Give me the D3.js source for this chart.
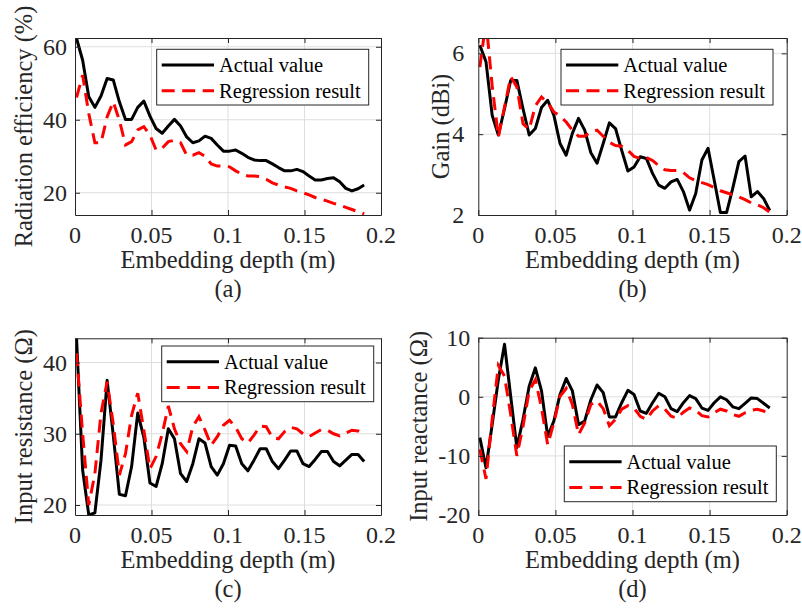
<!DOCTYPE html>
<html>
<head>
<meta charset="utf-8">
<script src="https://cdn.jsdelivr.net/npm/d3@7"></script>
<style>
  html, body { margin: 0; padding: 0; background: #fff; }
  svg { display: block; }
  text { font-family: "Liberation Serif", "Times New Roman", serif; }
</style>
</head>
<body>
<svg id="chart" width="802" height="610"></svg>
<script>
// ---------------- data ----------------
const depth = [0.001,0.005,0.009,0.013,0.017,0.021,0.025,0.029,0.033,0.037,0.041,0.045,0.049,0.053,0.057,0.061,
  0.065,0.069,0.073,0.077,0.081,0.085,0.089,0.093,0.097,0.101,0.105,0.109,0.113,0.117,0.121,0.125,
  0.129,0.133,0.137,0.141,0.145,0.149,0.153,0.157,0.161,0.165,0.169,0.173,0.177,0.181,0.185,0.189];

const effActual = [62.3,56.3,46.3,43.4,46.5,51.3,50.9,44.9,40.1,40.1,43.4,45.1,41.0,37.6,36.3,38.3,
  40.1,38.3,35.3,33.7,34.2,35.5,34.9,33.1,31.4,31.4,31.7,30.8,29.7,29.0,28.8,28.8,
  27.9,26.9,26.0,26.0,26.4,25.8,24.6,23.5,23.5,23.9,24.1,23.0,21.2,20.5,21.1,22.1];
const effRegression = [46.1,52.2,41.7,33.7,33.7,40.8,44.9,39.9,33.1,34.0,37.2,38.1,35.8,31.7,32.2,34.0,
  34.4,33.7,30.3,30.3,31.0,30.0,27.9,27.3,27.3,27.1,26.0,25.1,24.6,24.6,24.4,23.7,
  22.7,22.1,21.6,21.2,20.5,20.0,19.4,18.7,18.2,17.7,17.1,16.6,16.0,15.4,14.8,14.2];

const gainActual = [6.20,5.79,4.47,3.98,4.63,5.33,5.33,4.63,3.98,4.14,4.66,4.84,4.47,3.77,3.48,4.02,
  4.39,4.10,3.54,3.28,3.77,4.28,4.14,3.60,3.09,3.19,3.44,3.40,3.03,2.74,2.66,2.82,
  2.88,2.58,2.12,2.53,3.36,3.65,2.86,2.06,2.06,2.66,3.32,3.46,2.45,2.58,2.41,2.11];
const gainRegression = [5.66,6.80,5.20,3.93,4.67,5.42,5.17,4.26,4.12,4.70,4.92,4.78,4.55,4.45,4.30,4.10,
  3.95,3.95,4.05,4.10,3.95,3.80,3.72,3.70,3.60,3.45,3.40,3.42,3.35,3.22,3.12,3.10,
  3.10,3.05,2.92,2.85,2.80,2.75,2.68,2.60,2.55,2.50,2.45,2.38,2.30,2.25,2.18,2.07];

const resActual = [43.4,24.9,18.6,18.9,26.3,37.5,29.8,21.5,21.3,25.4,32.9,29.5,23.1,22.6,25.8,30.7,
  29.3,24.4,23.3,25.8,29.3,28.7,25.4,24.2,25.8,28.4,28.3,25.8,24.8,26.3,27.9,27.9,
  26.1,25.1,26.3,27.6,27.6,25.8,25.4,26.4,27.5,27.5,26.1,25.5,26.3,27.1,27.1,26.1];
const resRegression = [41.3,30.0,20.0,24.4,32.9,37.3,31.4,24.2,27.2,32.6,35.7,30.5,25.1,26.8,30.0,33.9,
  30.7,28.6,27.5,31.0,32.4,30.5,28.4,29.6,31.2,31.9,30.9,29.3,28.7,29.8,31.1,31.0,
  29.5,29.3,30.3,30.9,30.7,30.0,29.6,30.1,30.6,30.5,30.0,29.7,30.1,30.5,30.4,30.0];

const reactActual = [-6.9,-12.0,-4.7,2.9,8.9,0.1,-8.6,-3.8,1.8,4.9,1.0,-6.7,-4.1,0.4,3.1,1.0,
  -4.7,-4.1,-0.5,2.0,0.7,-3.4,-3.4,-1.0,1.1,0.4,-2.4,-2.8,-1.0,0.6,0.0,-2.0,
  -2.5,-1.0,0.2,-0.3,-1.9,-2.3,-1.0,0.0,-0.5,-1.7,-2.0,-1.1,-0.2,-0.3,-1.1,-1.9];
const reactRegression = [-8.9,-13.9,-3.8,5.3,3.5,-3.0,-10.0,-5.0,1.0,2.9,-1.9,-8.1,-4.4,0.1,1.4,-1.3,
  -6.4,-4.4,-1.3,-0.7,-2.0,-4.9,-3.8,-2.1,-1.5,-1.9,-3.3,-3.8,-2.4,-1.5,-2.1,-3.3,
  -3.6,-2.6,-1.9,-2.3,-3.2,-3.4,-2.7,-2.1,-2.4,-3.0,-3.3,-2.7,-2.3,-2.1,-2.4,-3.0];

const xTicks = [0, 0.05, 0.1, 0.15, 0.2];
const xTickLabels = ["0", "0.05", "0.1", "0.15", "0.2"];
const effTicks = [20, 40, 60];
const gainTicks = [2, 4, 6];
const resTicks = [20, 30, 40];
const reactTicks = [-20, -10, 0, 10];
const seriesNames = ["Actual value", "Regression result"];
const xLabel = "Embedding depth (m)";

// ---------------- layout / style ----------------
const AXC = "#262626", GRID = "#dedede";
const TICKFS = 24, LABFS = 24.5, LEGFS = 20.5;

const panels = [
  { L: 75, R: 381, T: 38, B: 215, dom: [13.9, 62.4], ticks: effTicks, ylab: "Radiation efficiency (%)", ylx: 32,
    cap: "(a)", act: effActual, reg: effRegression, leg: [156.7, 49.3], tickGap: 8 },
  { L: 478.3, R: 786.7, T: 38, B: 215, dom: [2, 6.38], ticks: gainTicks, ylab: "Gain (dBi)", ylx: 449,
    cap: "(b)", act: gainActual, reg: gainRegression, leg: [561, 49.3], tickGap: 14 },
  { L: 75, R: 381, T: 338.3, B: 515, dom: [18.6, 43.4], ticks: resTicks, ylab: "Input resistance (\u03A9)", ylx: 32,
    cap: "(c)", act: resActual, reg: resRegression, leg: [161.7, 346], tickGap: 8 },
  { L: 478.3, R: 786.7, T: 337.7, B: 515, dom: [-20, 10], ticks: reactTicks, ylab: "Input reactance (\u03A9)", ylx: 427,
    cap: "(d)", act: reactActual, reg: reactRegression, leg: [564.3, 446], tickGap: 8 }
];

const svg = d3.select("#chart");

panels.forEach((p, pi) => {
  const x = d3.scaleLinear().domain([0, 0.2]).range([p.L, p.R]);
  const y = d3.scaleLinear().domain(p.dom).range([p.B, p.T]);
  const g = svg.append("g");

  // grid
  g.selectAll(".gx").data(xTicks.slice(1, -1)).join("line")
    .attr("x1", d => x(d)).attr("x2", d => x(d)).attr("y1", p.T).attr("y2", p.B)
    .attr("stroke", GRID).attr("stroke-width", 1);
  g.selectAll(".gy").data(p.ticks.filter(t => y(t) > p.T + 0.5 && y(t) < p.B - 0.5)).join("line")
    .attr("x1", p.L).attr("x2", p.R).attr("y1", d => y(d)).attr("y2", d => y(d))
    .attr("stroke", GRID).attr("stroke-width", 1);

  // clip
  const cid = "clip" + pi;
  svg.append("defs").append("clipPath").attr("id", cid)
    .append("rect").attr("x", p.L).attr("y", p.T).attr("width", p.R - p.L).attr("height", p.B - p.T);

  const line = d3.line().x((d, i) => x(depth[i])).y(d => y(d));
  const lg = g.append("g").attr("clip-path", `url(#${cid})`);
  lg.append("path").datum(p.act).attr("d", line)
    .attr("fill", "none").attr("stroke", "#000").attr("stroke-width", 3).attr("stroke-linejoin", "round");
  lg.append("path").datum(p.reg).attr("d", line)
    .attr("fill", "none").attr("stroke", "#ff0000").attr("stroke-width", 3)
    .attr("stroke-dasharray", "13,7.5");

  // axes with inward ticks (box on all sides)
  const tk = 5;
  g.append("g").attr("transform", `translate(0,${p.B})`)
    .call(d3.axisBottom(x).tickValues(xTicks).tickSizeInner(-tk).tickSizeOuter(0).tickFormat(""));
  g.append("g").attr("transform", `translate(0,${p.T})`)
    .call(d3.axisTop(x).tickValues(xTicks).tickSizeInner(-tk).tickSizeOuter(0).tickFormat(""));
  g.append("g").attr("transform", `translate(${p.L},0)`)
    .call(d3.axisLeft(y).tickValues(p.ticks).tickSizeInner(-tk).tickSizeOuter(0).tickFormat(""));
  g.append("g").attr("transform", `translate(${p.R},0)`)
    .call(d3.axisRight(y).tickValues(p.ticks).tickSizeInner(-tk).tickSizeOuter(0).tickFormat(""));
  g.selectAll(".domain").attr("stroke", AXC).attr("stroke-width", 1);
  g.selectAll(".tick line").attr("stroke", AXC).attr("stroke-width", 1);

  // tick labels
  g.selectAll(".xtl").data(xTicks).join("text")
    .attr("x", d => x(d)).attr("y", p.B + 28)
    .attr("text-anchor", "middle").attr("font-size", TICKFS).attr("fill", AXC)
    .text((d, i) => xTickLabels[i]);
  g.selectAll(".ytl").data(p.ticks).join("text")
    .attr("x", p.L - p.tickGap).attr("y", d => y(d) + 8)
    .attr("text-anchor", "end").attr("font-size", TICKFS).attr("fill", AXC)
    .text(d => String(d));

  // axis labels
  g.append("text").attr("x", (p.L + p.R) / 2).attr("y", p.B + 53)
    .attr("text-anchor", "middle").attr("font-size", LABFS).attr("fill", AXC).text(xLabel);
  g.append("text").attr("transform", `translate(${p.ylx},${(p.T + p.B) / 2}) rotate(-90)`)
    .attr("text-anchor", "middle").attr("font-size", LABFS).attr("fill", AXC).text(p.ylab);
  g.append("text").attr("x", (p.L + p.R) / 2).attr("y", p.B + 82)
    .attr("text-anchor", "middle").attr("font-size", LABFS).attr("fill", AXC).text(p.cap);

  // legend
  const lgd = g.append("g").attr("transform", `translate(${p.leg[0]},${p.leg[1]})`);
  lgd.append("rect").attr("x", 0).attr("y", 0).attr("width", 212).attr("height", 55.7)
    .attr("fill", "#fff").attr("stroke", AXC).attr("stroke-width", 1);
  seriesNames.forEach((nm, k) => {
    const cy = 15.7 + k * 25.7;
    lgd.append("line").attr("x1", 5).attr("x2", 57.3).attr("y1", cy).attr("y2", cy)
      .attr("stroke", k === 0 ? "#000" : "#ff0000").attr("stroke-width", 3)
      .attr("stroke-dasharray", k === 0 ? null : "13,7.5");
    lgd.append("text").attr("x", 62.3).attr("y", cy + 7)
      .attr("font-size", LEGFS).attr("fill", "#000").text(nm);
  });
});
</script>
</body>
</html>
